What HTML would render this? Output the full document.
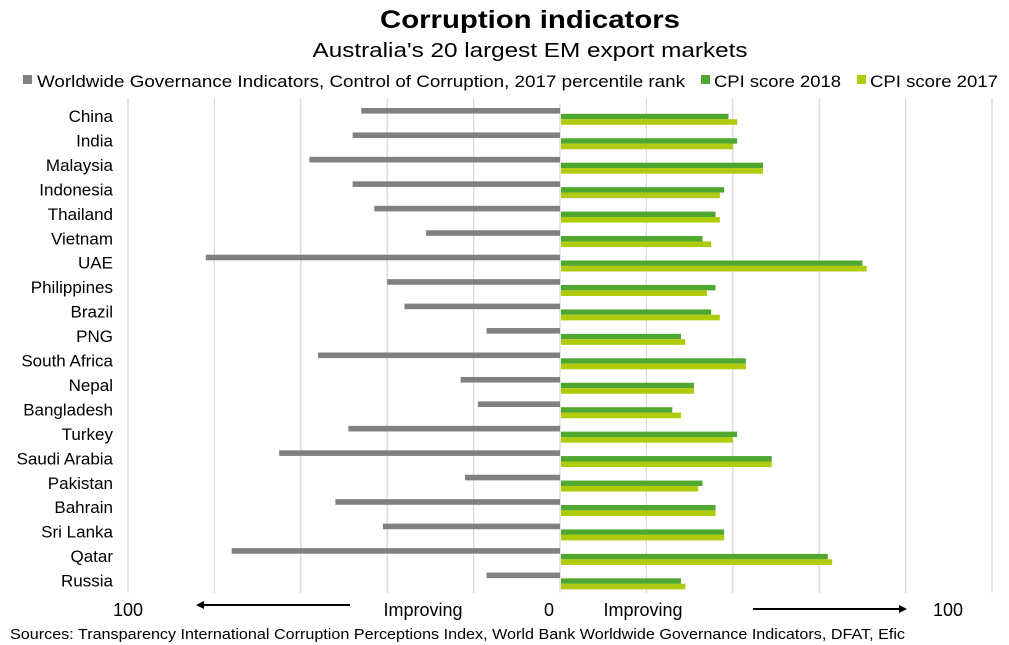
<!DOCTYPE html>
<html><head><meta charset="utf-8"><style>
html,body{margin:0;padding:0;background:#fff;}
svg{display:block;font-family:"Liberation Sans",Arial,sans-serif;}
</style></head><body>
<svg id="chart" width="1009" height="645" viewBox="0 0 1009 645" xmlns="http://www.w3.org/2000/svg">
<text x="530" y="28" text-anchor="middle" font-size="25" font-weight="bold" textLength="300" lengthAdjust="spacingAndGlyphs">Corruption indicators</text>
<text x="530" y="57" text-anchor="middle" font-size="20" textLength="435" lengthAdjust="spacingAndGlyphs">Australia's 20 largest EM export markets</text>
<g>
<rect x="23" y="75" width="9" height="9" fill="#808080"/>
<text x="37" y="87" font-size="17" textLength="648" lengthAdjust="spacingAndGlyphs">Worldwide Governance Indicators, Control of Corruption, 2017 percentile rank</text>
<rect x="701" y="75" width="9" height="9" fill="#4ea72e"/>
<text x="714" y="87" font-size="17" textLength="127" lengthAdjust="spacingAndGlyphs">CPI score 2018</text>
<rect x="857" y="75" width="9" height="9" fill="#b0cb0c"/>
<text x="870" y="87" font-size="17" textLength="128" lengthAdjust="spacingAndGlyphs">CPI score 2017</text>
</g>
<g id="grid"></g>
<g id="bars"></g>
<g id="labels"></g>
<g font-size="18">
<text x="128" y="616" text-anchor="middle">100</text>
<line x1="350" y1="605" x2="202" y2="605" stroke="#000" stroke-width="2"/>
<polygon points="196,605 204,601 204,609" fill="#000"/>
<text x="423" y="616" text-anchor="middle">Improving</text>
<text x="549" y="616" text-anchor="middle">0</text>
<text x="643" y="616" text-anchor="middle">Improving</text>
<line x1="753" y1="609" x2="901" y2="609" stroke="#000" stroke-width="2"/>
<polygon points="907,609 899,605 899,613" fill="#000"/>
<text x="948" y="616" text-anchor="middle">100</text>
</g>
<text x="10" y="639" font-size="15" textLength="895" lengthAdjust="spacingAndGlyphs">Sources: Transparency International Corruption Perceptions Index, World Bank Worldwide Governance Indicators, DFAT, Efic</text>
</svg>
<script>
const categories = ["China","India","Malaysia","Indonesia","Thailand","Vietnam","UAE","Philippines","Brazil","PNG","South Africa","Nepal","Bangladesh","Turkey","Saudi Arabia","Pakistan","Bahrain","Sri Lanka","Qatar","Russia"];
const wgi2017 = [46,48,58,48,43,31,82,40,36,17,56,23,19,49,65,22,52,41,76,17];
const cpi2018 = [39,41,47,38,36,33,70,36,35,28,43,31,26,41,49,33,36,38,62,28];
const cpi2017 = [41,40,47,37,37,35,71,34,37,29,43,31,28,40,49,32,36,38,63,29];
const gridTicks = [-100,-80,-60,-40,-20,0,20,40,60,80,100];

const SVGNS = "http://www.w3.org/2000/svg";
const zeroX = 560, unitPx = 4.32, plotTop = 104, rowH = 24.45, plotBottom = 593;
const xScale = v => zeroX + v * unitPx;
const rowY = i => plotTop + i * rowH;

const gridG = document.getElementById('grid');
gridTicks.forEach(t => {
  if (t === 0) return;
  const l = document.createElementNS(SVGNS, 'line');
  
  
  l.setAttribute('x1', xScale(t)); l.setAttribute('x2', xScale(t));
  l.setAttribute('y1', 98); l.setAttribute('y2', plotBottom);
  l.setAttribute('stroke', '#d9d9d9'); l.setAttribute('stroke-width', '1.3');
  gridG.appendChild(l);
});
const axLine = document.createElementNS(SVGNS, 'line');


axLine.setAttribute('x1', zeroX); axLine.setAttribute('x2', zeroX);
axLine.setAttribute('y1', plotTop); axLine.setAttribute('y2', plotBottom);
axLine.setAttribute('stroke', '#d9d9d9'); axLine.setAttribute('stroke-width', '1.3');
gridG.appendChild(axLine);

const barsG = document.getElementById('bars');
const labelsG = document.getElementById('labels');
function drawBar(x1, x2, y, h, fill, name) {
  const r = document.createElementNS(SVGNS, 'rect');
  
  
  r.setAttribute('x', Math.min(x1, x2)); r.setAttribute('width', Math.abs(x2 - x1));
  r.setAttribute('y', y); r.setAttribute('height', h);
  r.setAttribute('fill', fill);
  barsG.appendChild(r);
}
categories.forEach((c, i) => {
  const y0 = rowY(i);
  const slug = c.toLowerCase().replace(/\s+/g, '-');
  drawBar(xScale(-wgi2017[i]), zeroX, y0 + 4, 5.6, '#808080', 'bar-wgi-' + slug);
  drawBar(zeroX + 1, xScale(cpi2018[i]), y0 + 9.8, 5.4, '#4ea72e', 'bar-cpi2018-' + slug);
  drawBar(zeroX + 1, xScale(cpi2017[i]), y0 + 15.2, 5.6, '#b0cb0c', 'bar-cpi2017-' + slug);
  const t = document.createElementNS(SVGNS, 'text');
  
  
  t.setAttribute('x', 113); t.setAttribute('y', y0 + 18);
  t.setAttribute('text-anchor', 'end'); t.setAttribute('font-size', '17');
  t.textContent = c;
  labelsG.appendChild(t);
});
</script>
</body></html>
